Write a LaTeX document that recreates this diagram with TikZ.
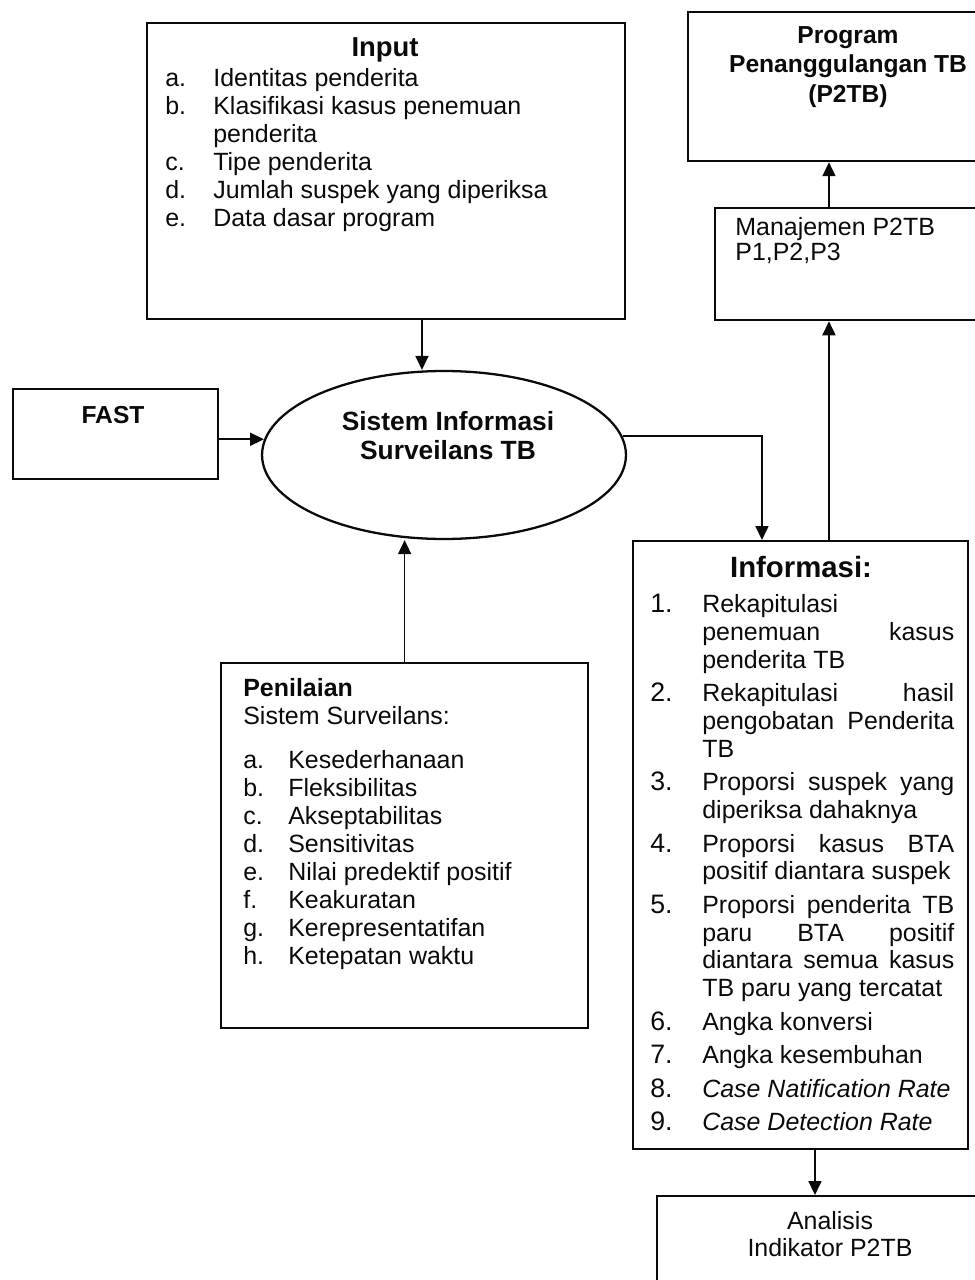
\documentclass[tikz,border=0pt]{standalone}
\usepackage{fontspec}
\setmainfont{Liberation Sans}
\usepackage{array}
\usetikzlibrary{shapes.geometric, arrows.meta}
\definecolor{myink}{RGB}{10,10,10}
\tikzset{
  panel/.style={rectangle, draw=myink, line width=1.3pt, inner sep=0pt,
    anchor=north west},
  oval/.style={ellipse, draw=myink, line width=1.3pt, inner sep=0pt,
    minimum width=7.28cm, minimum height=3.36cm},
  heading/.style={font=\bfseries\fontsize{14}{16.8}\selectfont,
    align=center, inner sep=0pt, text=myink},
  body/.style={font=\fontsize{14.2}{15.9}\selectfont,
    align=left, inner sep=0pt, text=myink},
  arrow/.style={-{Triangle[length=0.28cm, width=0.26cm]}, line width=1pt,
    color=myink}
}

\begin{document}
\begin{tikzpicture}[x=0.02cm, y=-0.02cm]
  \useasboundingbox (0,0) rectangle (974,1280);
  \node[panel, minimum width=9.56cm, minimum height=5.92cm] (input) at (146,22) {};
  \node[panel, minimum width=6.46cm, minimum height=2.98cm] (prog) at (687,11) {};
  \node[panel, minimum width=5.92cm, minimum height=2.24cm] (manaj) at (714,207) {};
  \node[panel, minimum width=4.1cm, minimum height=1.8cm] (fast) at (12,388) {};
  \node[oval] (ell) at (444,455) {};
  \node[panel, minimum width=7.34cm, minimum height=7.3cm] (pen) at (220,662) {};
  \node[panel, minimum width=6.7cm, minimum height=12.16cm] (info) at (632,540) {};
  \node[panel, minimum width=6.88cm, minimum height=2.5cm] (anal) at (656,1195) {};

  \node[heading, font=\bfseries\fontsize{15.6}{18}\selectfont] (inputtitle) at (385,50) {Input};
  \node[body, anchor=north west] (inputlist) at (165,67) {%
    \begin{tabular}{@{}p{0.96cm}@{}p{7.6cm}@{}}
    a. & Identitas penderita\\
    b. & Klasifikasi kasus penemuan\newline penderita\\
    c. & Tipe penderita\\
    d. & Jumlah suspek yang diperiksa\\
    e. & Data dasar program
    \end{tabular}};
  \node[heading] (progtitle) at (848,67) {Program\\Penanggulangan TB\\(P2TB)};
  \node[body, anchor=west, font=\fontsize{14.2}{14.2}\selectfont] (manajtext) at (735,241)
    {Manajemen P2TB\\P1,P2,P3};
  \node[heading] (fasttext) at (113,415) {FAST};
  \node[heading, font=\bfseries\fontsize{15}{16.5}\selectfont] (elltext) at (448,436)
    {Sistem Informasi\\Surveilans TB};
  \node[body, anchor=north west] (penlist) at (243,677) {%
    \begin{tabular}{@{}p{0.9cm}@{}l@{}}
    \multicolumn{2}{@{}l}{\bfseries Penilaian}\\
    \multicolumn{2}{@{}l}{Sistem Surveilans:}\\[0.32cm]
    a. & Kesederhanaan\\
    b. & Fleksibilitas\\
    c. & Akseptabilitas\\
    d. & Sensitivitas\\
    e. & Nilai predektif positif\\
    f. & Keakuratan\\
    g. & Kerepresentatifan\\
    h. & Ketepatan waktu
    \end{tabular}};
  \node[heading, font=\bfseries\fontsize{16.7}{19}\selectfont] (infotitle) at (801,567) {Informasi:};
  \node[body, anchor=north west, font=\fontsize{14.2}{15.75}\selectfont] (infolist) at (650,593) {%
    \begin{tabular}{@{}>{\fontsize{15.2}{15.75}\selectfont}p{1.04cm}@{}p{5.04cm}@{}}
    1. & Rekapitulasi\newline penemuan\hfill kasus\newline penderita TB\\\noalign{\vskip3.4pt}
    2. & Rekapitulasi\hfill hasil\newline pengobatan\hfill Penderita\newline TB\\\noalign{\vskip3.4pt}
    3. & Proporsi\hfill suspek\hfill yang\newline diperiksa dahaknya\\\noalign{\vskip3.4pt}
    4. & Proporsi\hfill kasus\hfill BTA\newline positif diantara suspek\\\noalign{\vskip3.4pt}
    5. & Proporsi\hfill penderita\hfill TB\newline paru\hfill BTA\hfill positif\newline
         diantara\hfill semua\hfill kasus\newline TB paru yang tercatat\\\noalign{\vskip3.4pt}
    6. & Angka konversi\\\noalign{\vskip3.4pt}
    7. & Angka kesembuhan\\\noalign{\vskip3.4pt}
    8. & \textit{Case Natification Rate}\\\noalign{\vskip3.4pt}
    9. & \textit{Case Detection Rate}
    \end{tabular}};
  \node[body, align=center, font=\fontsize{14.2}{15.4}\selectfont] (analtext) at (830,1234)
    {Analisis\\Indikator P2TB};

  \coordinate (inpx) at ([xshift=5.52cm]input.south west);
  \coordinate (infoin) at ([xshift=2.6cm]info.north west);
  \coordinate (infoout) at ([xshift=3.94cm]info.north west);
  \coordinate (infobot) at ([xshift=3.66cm]info.south west);
  \draw[arrow] (inpx) -- (inpx |- ell.north);
  \draw[arrow] (ell.175 -| fast.east) -- (ell.175);
  \draw[arrow] (pen.north) -- (pen.north |- ell.south);
  \draw[arrow] (ell.6) -| (infoin);
  \draw[arrow] (infoout) -- (infoout |- manaj.south);
  \draw[arrow] (infoout |- manaj.north) -- (infoout |- prog.south);
  \draw[arrow] (infobot) -- (infobot |- anal.north);
\end{tikzpicture}
\end{document}
